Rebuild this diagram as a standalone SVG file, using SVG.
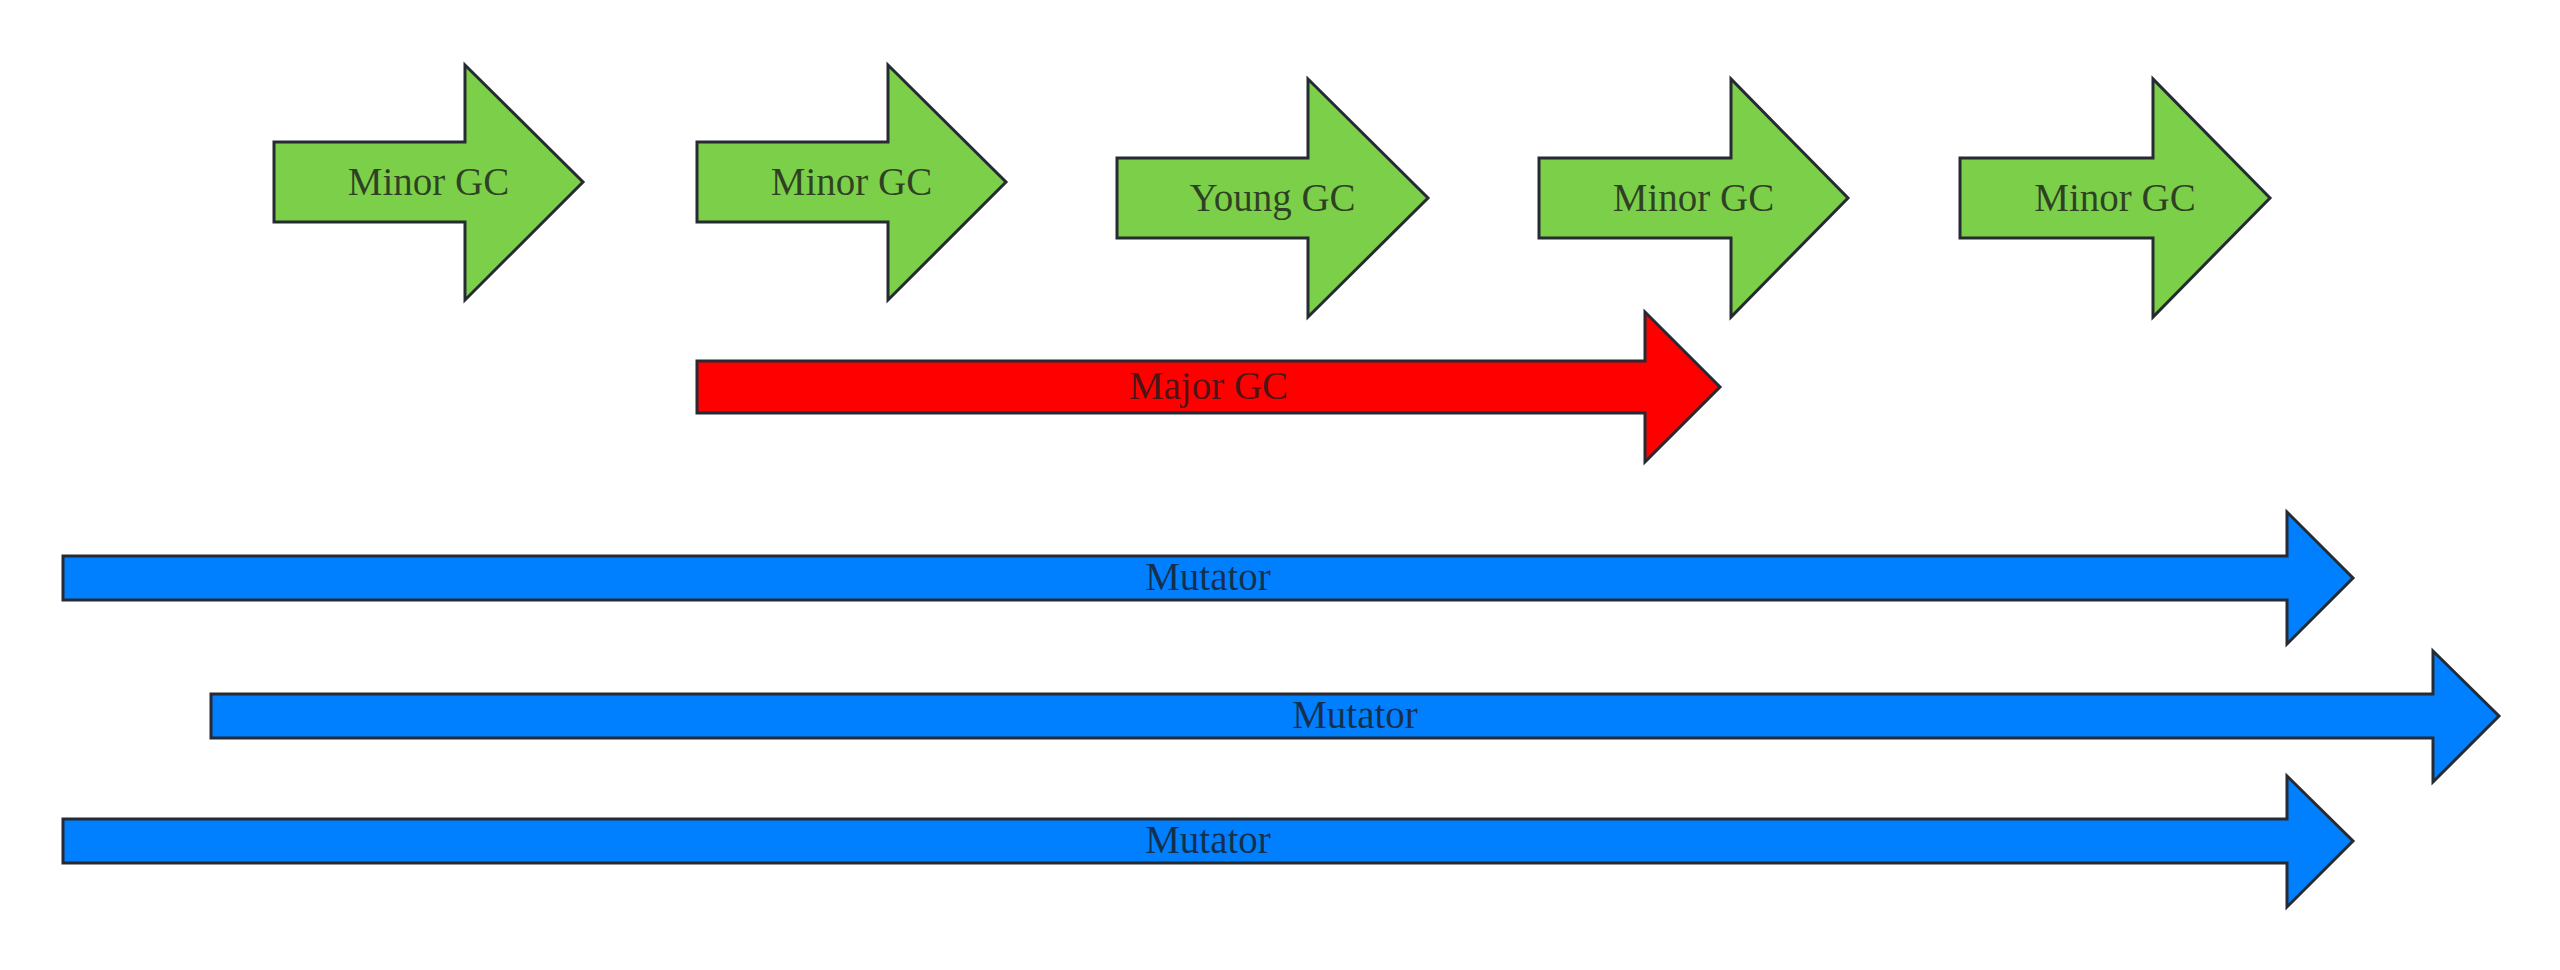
<svg xmlns="http://www.w3.org/2000/svg" width="2560" height="970" viewBox="0 0 2560 970">
<style>
.shape{stroke:#262b33;stroke-width:3;stroke-linejoin:miter}
.g{fill:#7ccf48}
.r{fill:#ff0000}
.b{fill:#0080ff}
.lbl{font-family:"Liberation Serif","Times New Roman",serif;font-size:39px;fill:#1a1a1a;fill-opacity:0.78;text-anchor:middle}
</style>
<rect width="2560" height="970" fill="#ffffff"/>
<g id="minor-gc-1">
<polygon class="shape g" points="274,142 465,142 465,65 583,182 465,300 465,222 274,222"/>
<text class="lbl" x="428.5" y="195">Minor GC</text>
</g>
<g id="minor-gc-2">
<polygon class="shape g" points="697,142 888,142 888,65 1006,182 888,300 888,222 697,222"/>
<text class="lbl" x="851.5" y="195">Minor GC</text>
</g>
<g id="young-gc">
<polygon class="shape g" points="1117,158 1308,158 1308,79 1428,198 1308,317 1308,238 1117,238"/>
<text class="lbl" x="1272.5" y="211">Young GC</text>
</g>
<g id="minor-gc-3">
<polygon class="shape g" points="1539,158 1731,158 1731,79 1848,198 1731,317 1731,238 1539,238"/>
<text class="lbl" x="1693.5" y="211">Minor GC</text>
</g>
<g id="minor-gc-4">
<polygon class="shape g" points="1960,158 2153,158 2153,79 2270,198 2153,317 2153,238 1960,238"/>
<text class="lbl" x="2115" y="211">Minor GC</text>
</g>
<g id="major-gc">
<polygon class="shape r" points="697,361 1645,361 1645,312 1720,387 1645,462 1645,413 697,413"/>
<text class="lbl" x="1208.5" y="399">Major GC</text>
</g>
<g id="mutator-1">
<polygon class="shape b" points="63,556 2287,556 2287,512 2353,578 2287,644 2287,600 63,600"/>
<text class="lbl" x="1208" y="590">Mutator</text>
</g>
<g id="mutator-2">
<polygon class="shape b" points="211,694 2433,694 2433,651 2499,716 2433,782 2433,738 211,738"/>
<text class="lbl" x="1355" y="728">Mutator</text>
</g>
<g id="mutator-3">
<polygon class="shape b" points="63,819 2287,819 2287,776 2353,841 2287,907 2287,863 63,863"/>
<text class="lbl" x="1208" y="853">Mutator</text>
</g>
<g id="connectors"></g>
</svg>
